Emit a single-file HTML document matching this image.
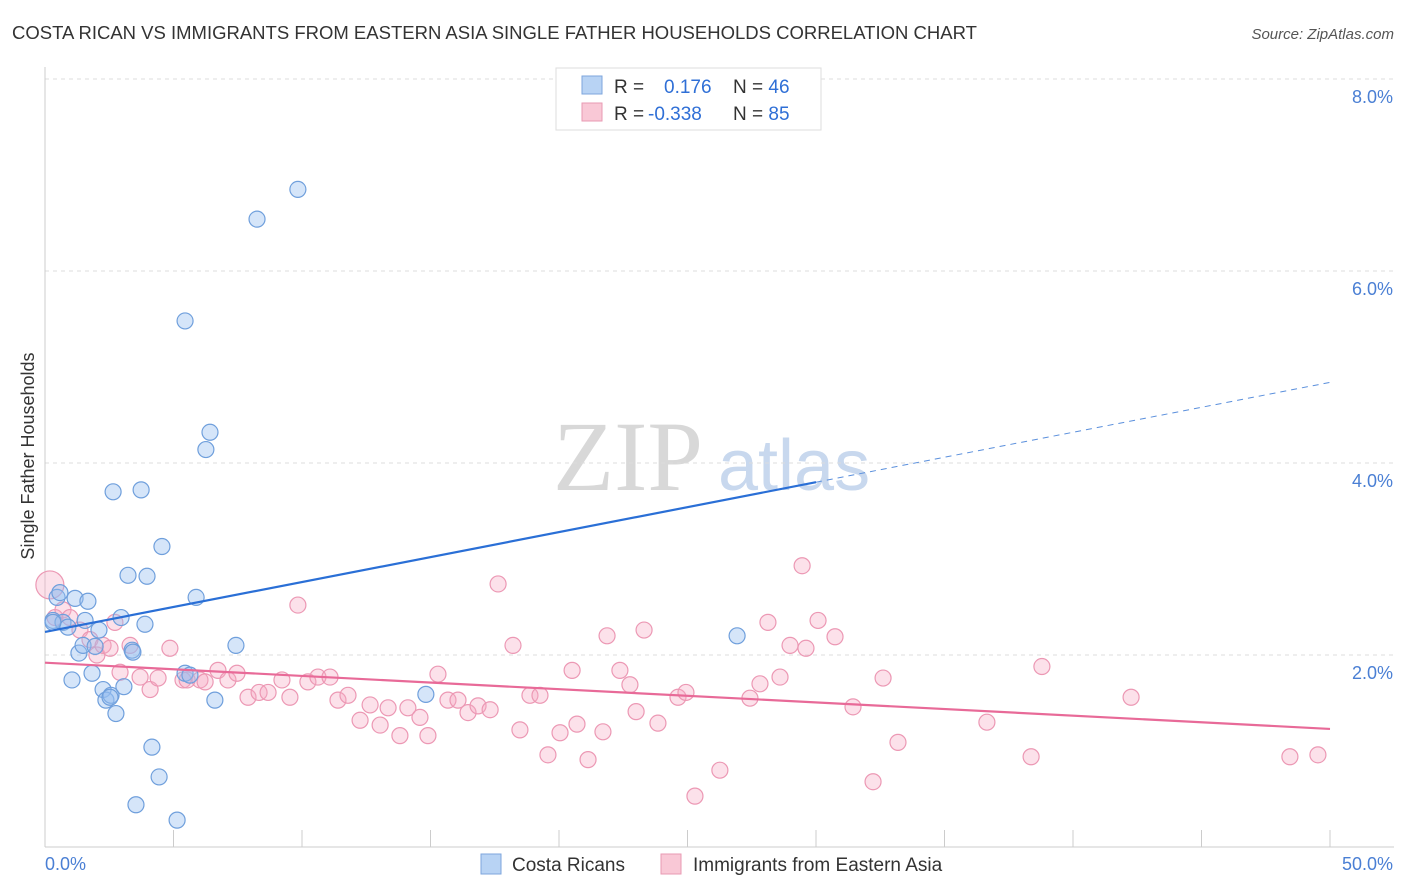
<!DOCTYPE html>
<html><head><meta charset="utf-8"><style>
body{margin:0;background:#fff;font-family:"Liberation Sans",sans-serif}
svg{display:block}
</style></head><body>
<svg id="chart" width="1406" height="892">
<text x="12" y="39" font-size="18.5" fill="#333">COSTA RICAN VS IMMIGRANTS FROM EASTERN ASIA SINGLE FATHER HOUSEHOLDS CORRELATION CHART</text>
<text x="1394" y="39" font-size="15" fill="#555" font-style="italic" text-anchor="end">Source: ZipAtlas.com</text>
<g>
<text x="553" y="490" font-size="100" font-family="Liberation Serif,serif" fill="#d8d8d8">ZIP</text>
<text x="718" y="490" font-size="72" fill="#c8d8ee">atlas</text>
</g>
<g id="grid"></g><g id="axes"></g><g id="marks"></g><g id="lines"></g>
<text transform="translate(34,456) rotate(-90)" font-size="18" fill="#333" text-anchor="middle">Single Father Households</text>
<g>
<rect x="556" y="68" width="265" height="62" fill="#fff" stroke="#ddd"/>
<rect x="582" y="76" width="20" height="18" fill="#b8d3f4" stroke="#7ea6dc"/>
<rect x="582" y="103" width="20" height="18" fill="#f9c8d6" stroke="#e89ab3"/>
<text x="614" y="93" font-size="19" fill="#333">R = <tspan x="664" fill="#2f6fd6">0.176</tspan><tspan x="733" fill="#333">N = </tspan><tspan fill="#2f6fd6">46</tspan></text>
<text x="614" y="120" font-size="19" fill="#333">R = <tspan x="648" fill="#2f6fd6">-0.338</tspan><tspan x="733" fill="#333">N = </tspan><tspan fill="#2f6fd6">85</tspan></text>
</g>
<g>
<rect x="481" y="854" width="20" height="20" fill="#b8d3f4" stroke="#7ea6dc"/>
<text x="512" y="871" font-size="19" fill="#333">Costa Ricans</text>
<rect x="661" y="854" width="20" height="20" fill="#f9c8d6" stroke="#e89ab3"/>
<text x="693" y="871" font-size="19" fill="#333">Immigrants from Eastern Asia</text>
</g>
<text x="45" y="870" font-size="18" fill="#4a7fd4">0.0%</text>
<text x="1393" y="870" font-size="18" fill="#4a7fd4" text-anchor="end">50.0%</text>
</svg>
<script>
const yTicks=[2,4,6,8];
const yTickLabels=["2.0%","4.0%","6.0%","8.0%"];
const xTicks=[0,5,10,15,20,25,30,35,40,45,50];
const blueX=[0.31,0.47,0.70,0.89,1.05,1.17,1.32,1.48,1.67,1.83,1.95,2.10,2.26,2.37,2.57,2.65,2.76,2.96,3.07,3.23,3.39,3.42,3.54,3.74,3.89,3.97,4.16,4.44,4.55,5.14,5.45,5.45,5.64,5.88,6.26,6.42,6.61,7.43,8.25,9.84,14.82,26.93,0.31,0.58,1.56,2.53];
const blueY=[2.36,2.60,2.34,2.29,1.74,2.59,2.02,2.10,2.56,1.81,2.09,2.26,1.64,1.53,1.58,3.70,1.39,2.39,1.67,2.83,2.05,2.03,0.44,3.72,2.32,2.82,1.04,0.73,3.13,0.28,5.48,1.81,1.79,2.60,4.14,4.32,1.53,2.10,6.54,6.85,1.59,2.20,2.34,2.65,2.36,1.56];
const pinkX=[0.19,0.39,0.70,0.97,1.36,1.75,2.02,2.26,2.53,2.72,2.92,3.31,3.70,4.09,4.40,4.86,5.37,5.53,6.03,6.23,6.73,7.12,7.47,7.90,8.33,8.68,9.22,9.53,9.84,10.23,10.62,11.09,11.40,11.79,12.26,12.65,13.04,13.35,13.81,14.12,14.59,14.90,15.29,15.68,16.07,16.46,16.85,17.32,17.63,18.21,18.48,18.87,19.26,19.57,20.04,20.51,20.70,21.13,21.71,21.87,22.37,22.76,23.00,23.31,23.85,24.63,24.94,25.29,26.26,27.43,27.82,28.13,28.60,28.99,29.46,29.61,30.08,30.74,31.44,32.22,32.61,33.19,36.65,38.37,38.79,42.26,48.44,49.53];
const pinkY=[2.73,2.39,2.47,2.39,2.26,2.16,2.00,2.10,2.07,2.34,1.82,2.10,1.77,1.64,1.76,2.07,1.74,1.74,1.74,1.72,1.84,1.74,1.81,1.56,1.61,1.61,1.74,1.56,2.52,1.72,1.77,1.77,1.53,1.58,1.32,1.48,1.27,1.45,1.16,1.45,1.35,1.16,1.80,1.53,1.53,1.40,1.47,1.43,2.74,2.10,1.22,1.58,1.58,0.96,1.19,1.84,1.28,0.91,1.20,2.20,1.84,1.69,1.41,2.26,1.29,1.56,1.61,0.53,0.80,1.55,1.70,2.34,1.77,2.10,2.93,2.07,2.36,2.19,1.46,0.68,1.76,1.09,1.30,0.94,1.88,1.56,0.94,0.96];
const blueTrend=[[0,2.24],[30,3.80],[50,4.84]];
const pinkTrend=[[0,1.92],[50,1.23]];
const NS="http://www.w3.org/2000/svg";
const X=v=>45+v*25.7, Y=v=>847-v*96;
function mk(t,a,p){const e=document.createElementNS(NS,t);for(const k in a)e.setAttribute(k,a[k]);p.appendChild(e);return e;}
const grid=document.getElementById('grid'),axes=document.getElementById('axes'),marks=document.getElementById('marks'),lines=document.getElementById('lines');
yTicks.forEach((t,i)=>{
 const l=mk('line',{x1:45,x2:1394,y1:Y(t),y2:Y(t),stroke:'#ddd','stroke-dasharray':'4,4'},grid);
 
 
 const tx=mk('text',{x:1393,y:Y(t)+24,'font-size':18,fill:'#4a7fd4','text-anchor':'end'},grid);
 tx.textContent=yTickLabels[i];
 
 
});
const ya=mk('line',{x1:45,x2:45,y1:67,y2:847,stroke:'#ccc'},axes);


const xa=mk('line',{x1:45,x2:1394,y1:847,y2:847,stroke:'#ccc'},axes);


xTicks.forEach(t=>{
 const l=mk('line',{x1:X(t),x2:X(t),y1:830,y2:847,stroke:'#ccc'},axes);
 
 
});
pinkX.forEach((v,i)=>{
 const c=mk('circle',{cx:X(v),cy:Y(pinkY[i]),r:i==0?14:8,fill:'rgba(245,170,195,0.35)',stroke:'#ec98b4','stroke-width':1.2},marks);
 
 
});
blueX.forEach((v,i)=>{
 const c=mk('circle',{cx:X(v),cy:Y(blueY[i]),r:8,fill:'rgba(150,190,240,0.4)',stroke:'#6f9fdc','stroke-width':1.2},marks);
 
 
});
const b1=mk('line',{x1:X(blueTrend[0][0]),y1:Y(blueTrend[0][1]),x2:X(blueTrend[1][0]),y2:Y(blueTrend[1][1]),stroke:'#2a6fd6','stroke-width':2.2},lines);


const b2=mk('line',{x1:X(blueTrend[1][0]),y1:Y(blueTrend[1][1]),x2:X(blueTrend[2][0]),y2:Y(blueTrend[2][1]),stroke:'#5a8fdc','stroke-width':1,'stroke-dasharray':'6,5'},lines);


const p1=mk('line',{x1:X(pinkTrend[0][0]),y1:Y(pinkTrend[0][1]),x2:X(pinkTrend[1][0]),y2:Y(pinkTrend[1][1]),stroke:'#e86a98','stroke-width':2.2},lines);


</script>
</body></html>
